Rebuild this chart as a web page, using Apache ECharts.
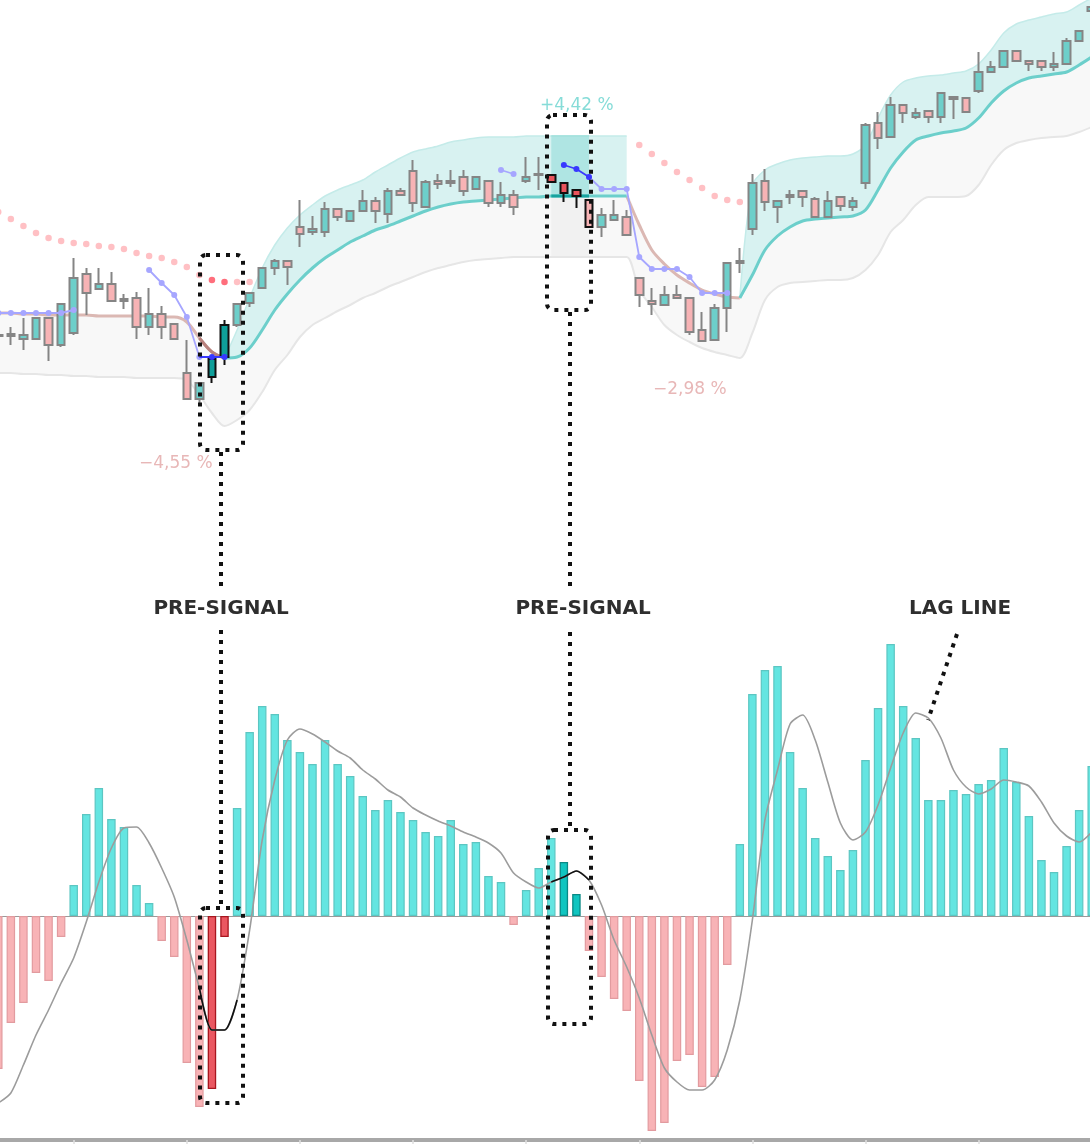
<!DOCTYPE html>
<html><head><meta charset="utf-8">
<script src="https://cdn.jsdelivr.net/npm/echarts@6/dist/echarts.min.js"></script>
<style>html,body{margin:0;padding:0;background:#fff}#c{width:1090px;height:1144px}</style>
</head><body><div id="c"></div><script>
const gap = n => Array(n).fill(null);

const days = Array.from({length: 88}, (_, i) => 'D' + (i + 1));

// [open, close, low, high]
const candles = [
[126.4,126.5,125.8,127.1],[126.4,126.6,125.5,127.3],[126.1,126.5,125.0,128.2],[126.1,128.2,126.1,128.2],[128.2,125.5,123.9,128.2],
[125.5,129.6,125.3,129.6],[126.7,132.2,126.5,134.2],[132.6,130.7,128.5,133.2],[131.1,131.6,131.1,133.2],[131.6,129.9,129.9,132.8],
[129.9,130.1,129.1,130.6],[130.2,127.3,126.1,130.8],[127.3,128.6,126.5,131.2],[128.6,127.3,126.1,129.4],[127.6,126.1,126.1,127.6],
[122.7,120.1,120.1,126.0],[120.1,121.7,119.7,121.7],[122.3,124.1,121.7,124.1],[124.3,127.5,123.5,128.0],[127.5,129.6,127.3,129.6],
[129.7,130.7,129.3,130.7],[131.2,133.2,131.2,133.2],[133.2,133.9,132.5,134.1],[133.9,133.3,131.5,133.9],[137.3,136.6,135.3,140.0],
[136.8,137.1,136.5,138.4],[136.8,139.1,136.3,139.8],[139.1,138.3,137.9,139.1],[137.9,138.9,137.9,138.9],[138.9,139.9,138.9,141.0],
[139.9,138.9,137.7,140.3],[138.6,140.9,137.7,141.2],[140.9,140.5,140.5,141.2],[142.9,139.7,138.8,144.0],[139.3,141.8,139.3,142.0],
[141.9,141.6,141.1,142.6],[141.7,141.9,141.3,143.0],[142.3,140.9,140.4,143.0],[141.1,142.3,141.1,142.3],[141.9,139.7,139.3,141.9],
[139.7,140.5,139.3,141.8],[140.5,139.3,138.5,141.0],[141.9,142.3,141.7,144.3],[142.5,142.6,141.0,144.3],[142.5,141.8,141.8,142.5],
[141.7,140.7,139.8,141.7],[141.0,140.4,139.2,141.0],[140.0,137.3,137.3,140.0],[137.3,138.5,136.3,139.2],[138.0,138.5,138.0,140.0],
[138.3,136.5,136.5,139.0],[132.2,130.5,129.3,132.2],[129.9,129.6,128.5,131.2],[129.5,130.5,129.5,131.4],[130.5,130.2,130.2,131.5],
[130.2,126.8,126.5,130.2],[127.0,125.9,125.9,128.8],[126.0,129.2,126.0,129.6],[129.2,133.7,126.8,133.7],[133.7,133.9,132.7,135.2],
[137.1,141.7,136.5,142.6],[141.9,139.8,138.9,143.1],[139.3,139.9,137.7,139.9],[140.3,140.5,139.6,141.0],[140.9,140.3,139.3,140.9],
[140.1,138.3,138.3,140.3],[138.3,139.9,138.3,140.9],[140.3,139.4,138.9,140.3],[139.3,139.9,138.9,140.3],[141.7,147.5,141.1,147.7],
[147.7,146.2,145.1,148.8],[146.3,149.5,146.3,150.3],[149.5,148.7,147.7,149.5],[148.3,148.7,148.1,149.2],[148.9,148.3,147.7,148.9],
[148.3,150.7,147.7,150.7],[150.3,150.1,148.1,150.3],[150.2,148.8,148.8,150.2],[150.9,152.8,150.7,154.8],[152.8,153.3,152.8,153.9],
[153.3,154.9,153.3,154.9],[154.9,153.9,153.9,154.9],[153.9,153.6,152.9,153.9],[153.9,153.3,152.9,153.9],[153.3,153.6,152.9,154.8],
[153.6,155.9,153.6,156.2],[155.9,156.9,155.9,156.9],[158.9,159.3,158.5,159.5]
];

const midLine = [128.7,128.7,128.6,128.6,128.5,128.5,128.5,128.5,128.4,128.4,
 128.4,128.4,128.4,128.3,128.3,127.8,126.2,124.8,124.2,124.3,
 125.2,127.0,129.0,130.6,132.0,133.2,134.2,135.0,135.8,136.4,
 137.0,137.4,137.9,138.4,138.9,139.3,139.6,139.8,139.9,140.0,
 140.1,140.2,140.3,140.3,140.4,140.4,140.4,140.4,140.4,140.4,
 140.4,137.5,135.0,133.6,132.5,131.7,131.0,130.6,130.3,130.2,
 132.5,135.0,136.4,137.3,137.9,138.1,138.2,138.3,138.4,139.0,
 141.0,143.2,144.8,146.0,146.4,146.7,146.9,147.2,148.2,149.7,
 150.9,151.7,152.2,152.4,152.6,152.8,153.5,154.3];

const upperBand = [].concat(gap(18),
 [124.2,127.0,130.2,133.2,135.5,137.2,138.5,139.5,140.4,141.0,141.5,142.0,142.8,143.5,144.2,144.8,145.1,145.4,145.8,146.0,146.2,146.3,146.3,146.3,
  146.4,146.4,146.4,146.4,146.4,146.4,146.4,146.4,146.4],
 gap(8),
 [130.2,141.5,143.0,143.6,144.0,144.2,144.3,144.4,144.4,144.6,145.5,148.2,150.5,151.8,152.2,152.4,152.5,152.7,152.9,153.6,155.0,156.7,157.6,158.0,158.3,158.6,158.8,159.5,160.2]);

const lowerBand = [122.7,122.7,122.6,122.6,122.5,122.5,122.4,122.4,122.3,122.3,
 122.3,122.2,122.2,122.2,122.2,122.0,120.5,118.7,117.4,118.0,
 119.0,120.8,123.0,124.5,126.3,127.5,128.2,128.9,129.5,130.2,
 130.7,131.3,131.8,132.3,132.8,133.2,133.5,133.8,134.0,134.1,
 134.2,134.3,134.3,134.3,134.3,134.3,134.3,134.3,134.3,134.3,
 134.3,131.0,129.3,127.5,126.5,125.8,125.2,124.8,124.5,124.2,
 126.7,130.0,131.3,131.7,131.8,131.9,132.0,132.0,132.2,133.0,
 134.5,136.8,138.0,139.5,140.3,140.3,140.3,140.4,141.5,143.5,
 145.0,145.7,146.0,146.2,146.3,146.4,146.8,147.3];

const sarDots = [].concat(
 [138.8,138.1,137.4,136.7,136.2,135.9,135.7,135.6,135.4,135.3,135.1,134.7,134.4,134.2,133.8,133.3,132.5,132.0,131.8,131.8,131.8],
 gap(30),
 [145.5,144.6,143.7,142.8,142.0,141.2,140.4,140.0,139.8],
 gap(28));

const fastLine = [].concat(
 [128.7,128.7,128.7,128.7,128.7,128.7,129.0], gap(5),
 [133.0,131.7,130.5,128.3,124.3], gap(23),
 [143.0,142.6], gap(5),
 [142.3,141.1,141.1,141.1,134.3,133.1,133.1,133.1,132.3,130.7,130.7,130.7], gap(29));

const fastLineSignal = [].concat(gap(16), [124.3,124.3,124.3], gap(26), [143.5,143.1,142.3], gap(40));

const histogram = [-1.53,-1.07,-0.87,-0.57,-0.65,-0.21,0.31,1.02,1.28,0.97,
 0.89,0.31,0.13,-0.25,-0.41,-1.47,-1.91,-1.73,-0.21,1.08,
 1.84,2.10,2.02,1.76,1.64,1.52,1.76,1.52,1.40,1.20,
 1.06,1.16,1.04,0.96,0.84,0.80,0.96,0.72,0.74,0.40,
 0.34,-0.09,0.26,0.48,0.78,0.54,0.22,-0.35,-0.61,-0.83,
 -0.95,-1.65,-2.15,-2.07,-1.45,-1.39,-1.71,-1.61,-0.49,0.72,
 2.22,2.46,2.50,1.64,1.28,0.78,0.60,0.46,0.66,1.56,
 2.08,2.72,2.10,1.78,1.16,1.16,1.26,1.22,1.32,1.36,
 1.68,1.34,1.00,0.56,0.44,0.70,1.06,1.50];

const lagLine = [-1.87,-1.77,-1.49,-1.19,-0.94,-0.67,-0.42,-0.06,0.34,0.68,
 0.88,0.89,0.73,0.48,0.19,-0.24,-0.72,-1.14,-1.14,-0.84,
 -0.14,0.76,1.36,1.76,1.87,1.82,1.74,1.65,1.58,1.46,
 1.37,1.26,1.19,1.08,1.01,0.95,0.90,0.84,0.79,0.73,
 0.63,0.43,0.34,0.28,0.34,0.39,0.45,0.36,0.11,-0.24,
 -0.51,-0.82,-1.19,-1.52,-1.66,-1.74,-1.74,-1.64,-1.34,-0.84,
 -0.04,0.96,1.46,1.92,2.01,1.76,1.34,0.93,0.76,0.84,
 1.11,1.48,1.83,2.03,1.98,1.78,1.46,1.29,1.22,1.27,
 1.36,1.34,1.30,1.14,0.93,0.80,0.74,0.84];

// segment / highlight index ranges
const tealSegs = [[18,50],[59,87]];
const brownSegs = [[0,18],[50,59]];
const box1 = [[16,19]], box2 = [[44,47]];
const hlTealCandles = [17,18], hlRedCandles = [44,45,46], hlEdgeCandles = [47];
const hlRedBars = [17,18], hlTealBars = [45,46];
const hlSar = [17,18];

function only(arr, ranges) { return arr.map((v,i)=> ranges.some(([a,b])=> i>=a && i<=b) ? v : null); }
function diff(a,b) { return a.map((v,i)=> (v==null||b[i]==null) ? null : +(v-b[i]).toFixed(3)); }

const X0 = {xAxisIndex:0, yAxisIndex:0};
const lb = Object.assign({type:'line', symbol:'none', smooth:0.3, silent:true}, X0);
const L = o => Object.assign({}, lb, o);

const candleData = candles.map((c,i)=>{
  const it = {value:c};
  if (hlTealCandles.includes(i)) it.itemStyle = {color:'#0f9f9a', color0:'#0f9f9a', borderColor:'#111', borderColor0:'#111'};
  if (hlRedCandles.includes(i)) it.itemStyle = {color:'#e9545c', color0:'#e9545c', borderColor:'#111', borderColor0:'#111'};
  if (hlEdgeCandles.includes(i)) it.itemStyle = {borderColor:'#111', borderColor0:'#111'};
  return it;
});

const sarData = sarDots.map((v,i)=> v==null ? null : {value:[i,v], itemStyle:{color: hlSar.includes(i) ? '#ff4a5b' : '#ffb0b5'}}).filter(Boolean);

const barData = histogram.map((v,i)=>{
  let s;
  if (hlRedBars.includes(i)) s = {color:'#ea5761', borderColor:'#a8161f', borderWidth:1.3};
  else if (hlTealBars.includes(i)) s = {color:'#10c5c0', borderColor:'#0a8985', borderWidth:1.3};
  else if (v >= 0) s = {color:'#64e5e1', borderColor:'#5cc6c2', borderWidth:1.2};
  else s = {color:'#f8b3b6', borderColor:'#e29b9f', borderWidth:1.2};
  return {value:v, itemStyle:s};
});

const chart = echarts.init(document.getElementById('c'), null, {renderer:'canvas'});
const dotted = {stroke:'#111', lineWidth:4, lineDash:[4,6], fill:'none'};
const lbl = (x,y,text) => ({type:'text', x, y, z:100, style:{text, font:'bold 20px "DejaVu Sans"', fill:'#2e2e2e', align:'center', verticalAlign:'middle'}});
const pct = (x,y,text,color) => ({type:'text', x, y, z:100, style:{text, font:'17px "DejaVu Sans"', fill:color, align:'left', verticalAlign:'middle'}});

chart.setOption({
  animation:false,
  backgroundColor:'#fff',
  grid:[
    {left:-8, right:-8, top:0, height:600, outerBoundsMode:'none'},
    {left:-8, right:-8, top:616, bottom:4, outerBoundsMode:'none'}
  ],
  xAxis:[
    {gridIndex:0, type:'category', data:days, boundaryGap:true, show:false},
    {gridIndex:1, type:'category', data:days, boundaryGap:true, position:'top',
     axisLine:{show:true, onZero:true, lineStyle:{color:'#9a9a9a', width:1.2}}, axisTick:{show:false}, axisLabel:{show:false}},
    {gridIndex:1, type:'category', data:days, boundaryGap:true, position:'bottom',
     axisLine:{show:true, onZero:false, lineStyle:{color:'#a8a8a8', width:4}},
     axisTick:{show:true, alignWithLabel:true, interval:(i)=> i % 9 === 6, length:6, lineStyle:{color:'#dedede', width:1.5}},
     axisLabel:{show:false}}
  ],
  yAxis:[
    {gridIndex:0, type:'value', min:100, max:160, show:false},
    {gridIndex:1, type:'value', min:-2.24, max:3.0, show:false}
  ],
  series:[
    L({data:lowerBand, stack:'grey', lineStyle:{color:'#e6e6e6', width:2}, z:1}),
    L({data:diff(midLine, lowerBand), stack:'grey', lineStyle:{opacity:0}, areaStyle:{color:'#f8f8f8', opacity:1}, z:1}),
    L({smooth:false, data:only(lowerBand, box2), stack:'hg', lineStyle:{opacity:0}, z:1}),
    L({smooth:false, data:diff(only(midLine, box2), only(lowerBand, box2)), stack:'hg', lineStyle:{opacity:0}, areaStyle:{color:'#f1f1f1', opacity:1}, z:1}),
    L({data:only(midLine, tealSegs), stack:'teal', lineStyle:{opacity:0}, z:1}),
    L({data:diff(upperBand, midLine), stack:'teal', lineStyle:{color:'#c4ebe9', width:1.5}, areaStyle:{color:'#d8f2f1', opacity:1}, z:1}),
    L({smooth:false, data:only(midLine, box2), stack:'hl', lineStyle:{opacity:0}, z:1}),
    L({smooth:false, data:diff(only(upperBand, box2), only(midLine, box2)), stack:'hl', lineStyle:{color:'#9fdfdc', width:1.5}, areaStyle:{color:'#afe5e3', opacity:1}, z:1}),
    L({data:only(midLine, brownSegs), lineStyle:{color:'#dbb8b3', width:3}, z:2}),
    L({data:only(midLine, tealSegs), lineStyle:{color:'#6ccfcb', width:3}, z:2}),
    L({data:only(midLine, [[16,18]]), lineStyle:{color:'#b8827e', width:3}, z:2}),
    L({data:only(midLine, box2), smooth:false, lineStyle:{color:'#17a39f', width:3}, z:2}),
    Object.assign({type:'candlestick', data:candleData, barWidth:8, silent:true, z:3,
      itemStyle:{color:'#6dcfca', color0:'#f7b3b5', borderColor:'#858585', borderColor0:'#858585', borderWidth:2}}, X0),
    Object.assign({type:'scatter', data:sarData, symbol:'circle', symbolSize:6.5, silent:true, z:4}, X0),
    Object.assign({type:'line', data:fastLine, symbol:'circle', symbolSize:6, showSymbol:true, showAllSymbol:true, silent:true, z:4,
      lineStyle:{color:'#a6a6ff', width:1.8}, itemStyle:{color:'#a6a6ff'}}, X0),
    Object.assign({type:'line', data:fastLineSignal.map((v,i)=> v==null ? null : (i===16 ? {value:v, symbol:'none'} : v)),
      symbol:'circle', symbolSize:6, showSymbol:true, showAllSymbol:true, silent:true, z:5,
      lineStyle:{color:'#3838ff', width:1.8}, itemStyle:{color:'#3838ff'}}, X0),
    {type:'bar', xAxisIndex:1, yAxisIndex:1, data:barData, barWidth:8.5, silent:true, z:2},
    {type:'line', xAxisIndex:1, yAxisIndex:1, data:lagLine, smooth:0.25, symbol:'none', silent:true, z:3,
      lineStyle:{color:'#9c9c9c', width:1.6}},
    {type:'line', xAxisIndex:1, yAxisIndex:1, data:only(lagLine, box1.concat(box2)), smooth:0.25, symbol:'none', silent:true, z:4,
      lineStyle:{color:'#111', width:1.6}}
  ],
  graphic:[
    {type:'rect', z:100, shape:{x:200, y:255, width:43, height:195, r:6}, style:dotted},
    {type:'rect', z:100, shape:{x:547, y:115, width:44, height:195, r:6}, style:dotted},
    {type:'rect', z:100, shape:{x:200, y:908, width:43, height:195, r:6}, style:dotted},
    {type:'rect', z:100, shape:{x:548, y:830, width:43, height:194, r:6}, style:dotted},
    {type:'line', z:100, shape:{x1:221, y1:452, x2:221, y2:590}, style:dotted},
    {type:'line', z:100, shape:{x1:221, y1:630, x2:221, y2:906}, style:dotted},
    {type:'line', z:100, shape:{x1:570, y1:312, x2:570, y2:588}, style:dotted},
    {type:'line', z:100, shape:{x1:570, y1:632, x2:570, y2:828}, style:dotted},
    {type:'line', z:100, shape:{x1:957, y1:634, x2:928, y2:720}, style:dotted},
    lbl(221, 609, 'PRE-SIGNAL'),
    lbl(583, 609, 'PRE-SIGNAL'),
    lbl(960, 609, 'LAG LINE'),
    pct(540, 106, '+4,42 %', '#86dcd8'),
    pct(139, 464, '\u22124,55 %', '#e8b7b7'),
    pct(653, 390, '\u22122,98 %', '#e8b7b7')
  ]
});
</script></body></html>
